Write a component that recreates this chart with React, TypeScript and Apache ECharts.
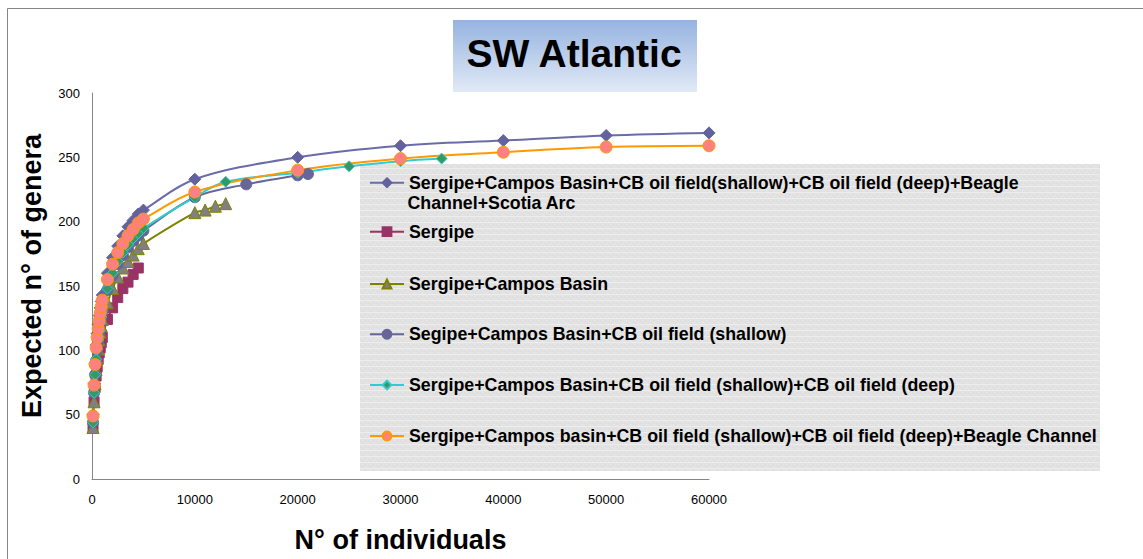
import React, { useEffect, useRef } from "react";
import * as echarts from "echarts";

// ---- data ----
const xSmall = [100, 200, 300, 400, 500, 600, 700, 800, 900, 1000, 1500, 2000, 2500, 3000, 3500, 4000, 4500, 5000];

const s1Name = "Sergipe+Campos Basin+CB oil field(shallow)+CB oil field (deep)+Beagle Channel+Scotia Arc";
const s1X = [...xSmall, 10000, 20000, 30000, 40000, 50000, 60000];
const s1Y = [50, 74, 90, 104, 113, 120, 127, 133, 138, 143, 160, 172, 181, 189, 196, 201, 206, 209, 233, 250, 259, 263, 267, 269];

const s2Name = "Sergipe";
const s2X = [100, 200, 300, 400, 500, 600, 700, 800, 900, 1000, 1500, 2000, 2500, 3000, 3500, 4000, 4500];
const s2Y = [40, 60, 71, 80, 87, 93, 98, 102, 106, 110, 124, 133, 141, 148, 153, 159, 164];

const s3Name = "Sergipe+Campos Basin";
const s3X = [...xSmall, 10000, 11000, 12000, 13000];
const s3Y = [40, 60, 74, 85, 94, 101, 108, 114, 119, 124, 137, 148, 157, 164, 169, 174, 179, 183, 207, 209, 212, 214];

const s4Name = "Segipe+Campos Basin+CB oil field (shallow)";
const s4X = [...xSmall, 10000, 15000, 20000, 21000];
const s4Y = [44, 67, 81, 92, 100, 107, 114, 120, 125, 130, 147, 158, 167, 174, 180, 185, 189, 193, 219, 229, 236, 237];

const s5Name = "Sergipe+Campos Basin+CB oil field (shallow)+CB oil field (deep)";
const s5X = [...xSmall, 10000, 13000, 20000, 25000, 30000, 34000];
const s5Y = [44, 67, 81, 93, 101, 108, 115, 121, 126, 131, 148, 160, 169, 176, 182, 187, 191, 195, 219, 231, 238, 243, 247, 249];

const s6Name = "Sergipe+Campos basin+CB oil field (shallow)+CB oil field (deep)+Beagle Channel";
const s6X = [...xSmall, 10000, 20000, 30000, 40000, 50000, 60000];
const s6Y = [49, 73, 89, 102, 110, 117, 123, 129, 134, 139, 155, 167, 176, 183, 189, 194, 199, 202, 223, 240, 249, 254, 258, 259];

const xTicks = { min: 0, max: 60000, interval: 10000 };
const yTicks = { min: 0, max: 300, interval: 50 };

const FONT = "'Liberation Sans', Arial, sans-serif";

const pairs = (xs: number[], ys: number[]) => xs.map((x, i) => [x, ys[i]]);

// small deterministic fabric-like texture for the legend box
function makeTexture(): string | null {
  try {
    const c = document.createElement("canvas");
    c.width = 8;
    c.height = 6;
    const ctx = c.getContext("2d");
    if (!ctx) return null;
    ctx.fillStyle = "#E2E2E2";
    ctx.fillRect(0, 0, 8, 6);
    ctx.fillStyle = "#EDEDED";
    ctx.fillRect(0, 0, 8, 1);
    ctx.fillStyle = "#D9D9D9";
    ctx.fillRect(1, 3, 1, 1);
    ctx.fillRect(5, 2, 1, 1);
    ctx.fillRect(3, 5, 1, 1);
    ctx.fillStyle = "#EAEAEA";
    ctx.fillRect(6, 4, 1, 1);
    ctx.fillRect(2, 2, 1, 1);
    return c.toDataURL("image/png");
  } catch (e) {
    return null;
  }
}

export default function App() {
  const ref = useRef<HTMLDivElement>(null);
  useEffect(() => {
    if (!ref.current) return;
    const chart = echarts.init(ref.current, undefined, { renderer: "svg" });

    const mk = (
      name: string,
      data: number[][],
      line: string,
      fill: string,
      border: string,
      symbol: string,
      size: number
    ) => ({
      name,
      type: "line",
      data,
      smooth: 0.35,
      symbol,
      symbolSize: size,
      lineStyle: { color: line, width: 2 },
      itemStyle: { color: fill, borderColor: border, borderWidth: 1 },
      emphasis: { disabled: true },
    });

    const legendCenters = [182.7, 231.7, 284, 334.3, 385, 436];
    const names = [s1Name, s2Name, s3Name, s4Name, s5Name, s6Name];
    const legends = names.map((n, i) => ({
      data: [n],
      left: 369,
      top: legendCenters[i] - 9,
      padding: 0,
      itemWidth: 34,
      itemHeight: 11,
      itemGap: 5,
      z: 6,
      formatter: (nm: string) =>
        nm === s1Name ? "Sergipe+Campos Basin+CB oil field(shallow)+CB oil field (deep)+Beagle" : nm,
      textStyle: { fontFamily: FONT, fontSize: 17.8, fontWeight: "bold", color: "#000", padding: [0, 0, 0, 0] },
    }));

    const tex = makeTexture();
    const legendFill: any = tex ? { image: tex, repeat: "repeat" } : "#E4E4E4";

    chart.setOption({
      animation: false,
      backgroundColor: "#fff",
      grid: { left: 92, right: 434, top: 93, bottom: 80 },
      xAxis: {
        type: "value",
        ...xTicks,
        name: "N° of individuals",
        nameLocation: "middle",
        nameGap: 47,
        nameTextStyle: { fontFamily: FONT, fontSize: 27, fontWeight: "bold", color: "#000" },
        axisLine: { show: true, lineStyle: { color: "#868686", width: 1 } },
        axisTick: { show: false },
        splitLine: { show: false },
        axisLabel: {
          fontFamily: FONT,
          fontSize: 13,
          color: "#000",
          margin: 14,
          formatter: (v: number) => String(v),
        },
      },
      yAxis: {
        type: "value",
        ...yTicks,
        axisLine: { show: true, lineStyle: { color: "#868686", width: 1 } },
        axisTick: { show: false },
        splitLine: { show: false },
        axisLabel: { fontFamily: FONT, fontSize: 13, color: "#000", margin: 12 },
      },
      legend: legends,
      graphic: [
        {
          type: "rect",
          z: -10,
          shape: { x: 7.5, y: 8.5, width: 1300, height: 700 },
          style: { fill: "none", stroke: "#868686", lineWidth: 1 },
        },
        {
          type: "rect",
          z: 1,
          shape: { x: 360, y: 164, width: 740, height: 307 },
          style: { fill: "#E4E4E4" },
        },
        {
          type: "rect",
          z: 1,
          shape: { x: 360, y: 164, width: 740, height: 307 },
          style: { fill: legendFill },
        },
        {
          type: "rect",
          z: 1,
          shape: { x: 453, y: 20, width: 244, height: 72 },
          style: {
            fill: {
              type: "linear",
              x: 0,
              y: 0,
              x2: 0,
              y2: 1,
              colorStops: [
                { offset: 0, color: "#96B3E0" },
                { offset: 1, color: "#E2EAF6" },
              ],
            },
          },
        },
        {
          type: "text",
          z: 2,
          x: 574,
          y: 53,
          style: {
            text: "SW Atlantic",
            fontFamily: FONT,
            fontSize: 39,
            fontWeight: "bold",
            fill: "#000",
            align: "center",
            verticalAlign: "middle",
          },
        },
        {
          type: "text",
          z: 2,
          x: 32,
          y: 276,
          rotation: Math.PI / 2,
          style: {
            text: "Expected n° of genera",
            fontFamily: FONT,
            fontSize: 27,
            fontWeight: "bold",
            fill: "#000",
            align: "center",
            verticalAlign: "middle",
          },
        },
        {
          type: "text",
          z: 7,
          x: 407.5,
          y: 203.3,
          style: {
            text: "Channel+Scotia Arc",
            fontFamily: FONT,
            fontSize: 17.8,
            fontWeight: "bold",
            fill: "#000",
            align: "left",
            verticalAlign: "middle",
          },
        },
      ],
      series: [
        mk(s1Name, pairs(s1X, s1Y), "#6B6BAA", "#62629E", "#62629E", "diamond", 12),
        mk(s2Name, pairs(s2X, s2Y), "#993366", "#993366", "#993366", "rect", 10),
        mk(s3Name, pairs(s3X, s3Y), "#808000", "#808080", "#808000", "triangle", 12),
        mk(s4Name, pairs(s4X, s4Y), "#666699", "#666699", "#666699", "circle", 11),
        mk(s5Name, pairs(s5X, s5Y), "#33CCCC", "#339966", "#33CCCC", "diamond", 11),
        mk(s6Name, pairs(s6X, s6Y), "#FF9900", "#FF8080", "#FF9900", "circle", 12),
      ],
    });
    return () => chart.dispose();
  }, []);
  return (
    <div
      ref={ref}
      style={{ position: "fixed", left: 0, top: 0, width: 1143, height: 559 }}
    />
  );
}
